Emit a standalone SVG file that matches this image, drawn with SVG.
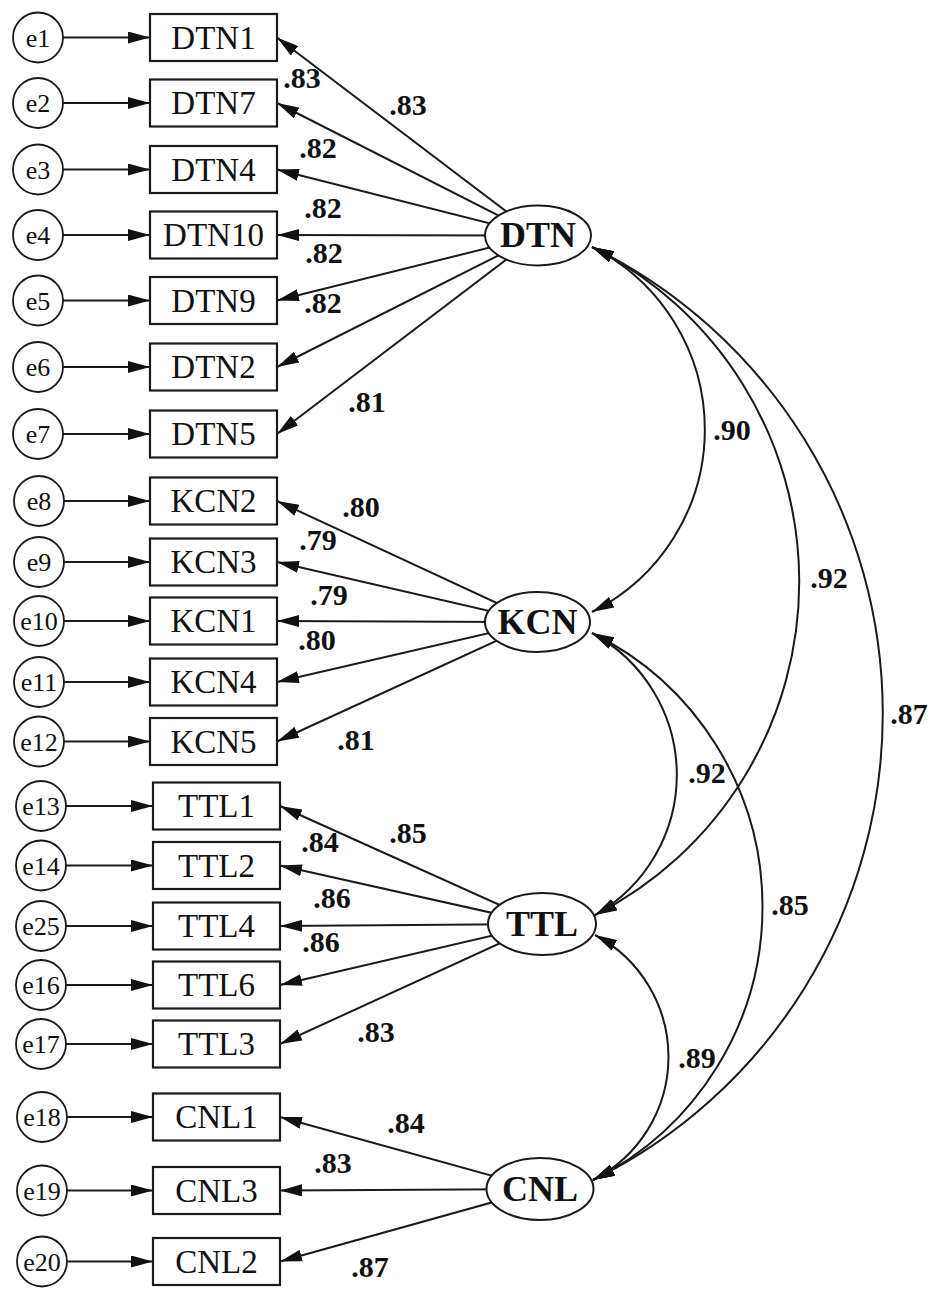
<svg xmlns="http://www.w3.org/2000/svg" width="932" height="1289" viewBox="0 0 932 1289">
  <defs>
    <marker id="ah" viewBox="0 0 22 12" refX="22" refY="6" markerWidth="22" markerHeight="12" markerUnits="userSpaceOnUse" orient="auto-start-reverse">
      <path d="M0,0 L22,6 L0,12 z" fill="#111"/>
    </marker>
    <style>
      .ln { fill: none; stroke: #1a1a1a; stroke-width: 2; marker-end: url(#ah); }
      .cov { fill: none; stroke: #1a1a1a; stroke-width: 2; marker-start: url(#ah); marker-end: url(#ah); }
      .box { fill: #fff; stroke: #1a1a1a; stroke-width: 2.2; }
      .err { fill: #fff; stroke: #1a1a1a; stroke-width: 1.8; }
      .lat { fill: #fff; stroke: #1a1a1a; stroke-width: 2; }
      text { font-family: "Liberation Serif", "Times New Roman", serif; fill: #111; text-anchor: middle; }
      .tb { font-size: 33px; }
      .te { font-size: 26px; }
      .tl { font-size: 36px; font-weight: bold; }
      .tw { font-size: 30px; font-weight: bold; }
    </style>
  </defs>
  <rect width="932" height="1289" fill="#fff"/>

  <!-- paths: error terms, loadings, covariances -->
  <g id="connectors">
    <!-- error -> indicator -->
    <line class="ln" x1="63" y1="37.5" x2="150" y2="37.5"/>
    <line class="ln" x1="63" y1="103" x2="150" y2="103"/>
    <line class="ln" x1="63" y1="169.5" x2="150" y2="169.5"/>
    <line class="ln" x1="63" y1="235" x2="150" y2="235"/>
    <line class="ln" x1="63" y1="300.5" x2="150" y2="300.5"/>
    <line class="ln" x1="63" y1="367" x2="150" y2="367"/>
    <line class="ln" x1="63" y1="434" x2="150" y2="434"/>
    <line class="ln" x1="64" y1="501" x2="150" y2="501"/>
    <line class="ln" x1="64" y1="562" x2="150" y2="562"/>
    <line class="ln" x1="64" y1="621" x2="150" y2="621"/>
    <line class="ln" x1="64" y1="682" x2="150" y2="682"/>
    <line class="ln" x1="64" y1="741.5" x2="150" y2="741.5"/>
    <line class="ln" x1="66" y1="806" x2="153" y2="806"/>
    <line class="ln" x1="66" y1="865.5" x2="153" y2="865.5"/>
    <line class="ln" x1="66" y1="926" x2="153" y2="926"/>
    <line class="ln" x1="66" y1="985" x2="153" y2="985"/>
    <line class="ln" x1="66" y1="1044" x2="153" y2="1044"/>
    <line class="ln" x1="67" y1="1117" x2="153" y2="1117"/>
    <line class="ln" x1="67" y1="1190.5" x2="153" y2="1190.5"/>
    <line class="ln" x1="67" y1="1261.5" x2="153" y2="1261.5"/>

    <!-- DTN loadings -->
    <line class="ln" x1="538" y1="235.5" x2="277" y2="37.5"/>
    <line class="ln" x1="538" y1="235.5" x2="277" y2="103"/>
    <line class="ln" x1="538" y1="235.5" x2="277" y2="169.5"/>
    <line class="ln" x1="538" y1="235.5" x2="277" y2="235"/>
    <line class="ln" x1="538" y1="235.5" x2="277" y2="300.5"/>
    <line class="ln" x1="538" y1="235.5" x2="277" y2="367"/>
    <line class="ln" x1="538" y1="235.5" x2="277" y2="434"/>
    <!-- KCN loadings -->
    <line class="ln" x1="537.5" y1="622" x2="277" y2="501"/>
    <line class="ln" x1="537.5" y1="622" x2="277" y2="562"/>
    <line class="ln" x1="537.5" y1="622" x2="277" y2="621"/>
    <line class="ln" x1="537.5" y1="622" x2="277" y2="682"/>
    <line class="ln" x1="537.5" y1="622" x2="277" y2="741.5"/>
    <!-- TTL loadings -->
    <line class="ln" x1="542" y1="924" x2="280" y2="806"/>
    <line class="ln" x1="542" y1="924" x2="280" y2="865.5"/>
    <line class="ln" x1="542" y1="924" x2="280" y2="926"/>
    <line class="ln" x1="542" y1="924" x2="280" y2="985"/>
    <line class="ln" x1="542" y1="924" x2="280" y2="1044"/>
    <!-- CNL loadings -->
    <line class="ln" x1="540" y1="1189" x2="280" y2="1117"/>
    <line class="ln" x1="540" y1="1189" x2="280" y2="1190.5"/>
    <line class="ln" x1="540" y1="1189" x2="280" y2="1261.5"/>

    <!-- factor covariances -->
    <path class="cov" d="M592,247 A204,204 0 0 1 592,612"/>
    <path class="cov" d="M592,247 A374,374 0 0 1 595,915"/>
    <path class="cov" d="M592,247 A520,520 0 0 1 593,1180"/>
    <path class="cov" d="M592,633 A161,161 0 0 1 595,915"/>
    <path class="cov" d="M592,633 A305,305 0 0 1 593,1180"/>
    <path class="cov" d="M595,935 A138,138 0 0 1 593,1180"/>
  </g>

  <!-- error terms -->
  <g id="e1"><circle class="err" cx="38" cy="37.5" r="25"/><text class="te" x="38" y="46.5">e1</text></g>
  <g id="e2"><circle class="err" cx="38" cy="103" r="25"/><text class="te" x="38" y="112">e2</text></g>
  <g id="e3"><circle class="err" cx="38" cy="169.5" r="25"/><text class="te" x="38" y="178.5">e3</text></g>
  <g id="e4"><circle class="err" cx="38" cy="235" r="25"/><text class="te" x="38" y="244">e4</text></g>
  <g id="e5"><circle class="err" cx="38" cy="300.5" r="25"/><text class="te" x="38" y="309.5">e5</text></g>
  <g id="e6"><circle class="err" cx="38" cy="367" r="25"/><text class="te" x="38" y="376">e6</text></g>
  <g id="e7"><circle class="err" cx="38" cy="434" r="25"/><text class="te" x="38" y="443">e7</text></g>
  <g id="e8"><circle class="err" cx="39" cy="501" r="25"/><text class="te" x="39" y="510">e8</text></g>
  <g id="e9"><circle class="err" cx="39" cy="562" r="25"/><text class="te" x="39" y="571">e9</text></g>
  <g id="e10"><circle class="err" cx="39" cy="621" r="25"/><text class="te" x="39" y="630">e10</text></g>
  <g id="e11"><circle class="err" cx="39" cy="682" r="25"/><text class="te" x="39" y="691">e11</text></g>
  <g id="e12"><circle class="err" cx="39" cy="741.5" r="25"/><text class="te" x="39" y="750.5">e12</text></g>
  <g id="e13"><circle class="err" cx="41" cy="806" r="25"/><text class="te" x="41" y="815">e13</text></g>
  <g id="e14"><circle class="err" cx="41" cy="865.5" r="25"/><text class="te" x="41" y="874.5">e14</text></g>
  <g id="e25"><circle class="err" cx="41" cy="926" r="25"/><text class="te" x="41" y="935">e25</text></g>
  <g id="e16"><circle class="err" cx="41" cy="985" r="25"/><text class="te" x="41" y="994">e16</text></g>
  <g id="e17"><circle class="err" cx="41" cy="1044" r="25"/><text class="te" x="41" y="1053">e17</text></g>
  <g id="e18"><circle class="err" cx="42" cy="1117" r="25"/><text class="te" x="42" y="1126">e18</text></g>
  <g id="e19"><circle class="err" cx="42" cy="1190.5" r="25"/><text class="te" x="42" y="1199.5">e19</text></g>
  <g id="e20"><circle class="err" cx="42" cy="1261.5" r="25"/><text class="te" x="42" y="1270.5">e20</text></g>

  <!-- observed indicators -->
  <g id="DTN1"><rect class="box" x="150" y="14" width="127" height="47"/><text class="tb" x="213.5" y="48.5">DTN1</text></g>
  <g id="DTN7"><rect class="box" x="150" y="79.5" width="127" height="47"/><text class="tb" x="213.5" y="114">DTN7</text></g>
  <g id="DTN4"><rect class="box" x="150" y="146" width="127" height="47"/><text class="tb" x="213.5" y="180.5">DTN4</text></g>
  <g id="DTN10"><rect class="box" x="150" y="211.5" width="127" height="47"/><text class="tb" x="213.5" y="246">DTN10</text></g>
  <g id="DTN9"><rect class="box" x="150" y="277" width="127" height="47"/><text class="tb" x="213.5" y="311.5">DTN9</text></g>
  <g id="DTN2"><rect class="box" x="150" y="343.5" width="127" height="47"/><text class="tb" x="213.5" y="378">DTN2</text></g>
  <g id="DTN5"><rect class="box" x="150" y="410.5" width="127" height="47"/><text class="tb" x="213.5" y="445">DTN5</text></g>
  <g id="KCN2"><rect class="box" x="150" y="477.5" width="127" height="47"/><text class="tb" x="213.5" y="512">KCN2</text></g>
  <g id="KCN3"><rect class="box" x="150" y="538.5" width="127" height="47"/><text class="tb" x="213.5" y="573">KCN3</text></g>
  <g id="KCN1"><rect class="box" x="150" y="597.5" width="127" height="47"/><text class="tb" x="213.5" y="632">KCN1</text></g>
  <g id="KCN4"><rect class="box" x="150" y="658.5" width="127" height="47"/><text class="tb" x="213.5" y="693">KCN4</text></g>
  <g id="KCN5"><rect class="box" x="150" y="718" width="127" height="47"/><text class="tb" x="213.5" y="752.5">KCN5</text></g>
  <g id="TTL1"><rect class="box" x="153" y="782.5" width="127" height="47"/><text class="tb" x="216.5" y="817">TTL1</text></g>
  <g id="TTL2"><rect class="box" x="153" y="842" width="127" height="47"/><text class="tb" x="216.5" y="876.5">TTL2</text></g>
  <g id="TTL4"><rect class="box" x="153" y="902.5" width="127" height="47"/><text class="tb" x="216.5" y="937">TTL4</text></g>
  <g id="TTL6"><rect class="box" x="153" y="961.5" width="127" height="47"/><text class="tb" x="216.5" y="996">TTL6</text></g>
  <g id="TTL3"><rect class="box" x="153" y="1020.5" width="127" height="47"/><text class="tb" x="216.5" y="1055">TTL3</text></g>
  <g id="CNL1"><rect class="box" x="153" y="1093.5" width="127" height="47"/><text class="tb" x="216.5" y="1128">CNL1</text></g>
  <g id="CNL3"><rect class="box" x="153" y="1167" width="127" height="47"/><text class="tb" x="216.5" y="1201.5">CNL3</text></g>
  <g id="CNL2"><rect class="box" x="153" y="1238" width="127" height="47"/><text class="tb" x="216.5" y="1272.5">CNL2</text></g>

  <!-- latent factors -->
  <g id="DTN"><ellipse class="lat" cx="538" cy="235.5" rx="53" ry="30"/><text class="tl" x="538" y="247">DTN</text></g>
  <g id="KCN"><ellipse class="lat" cx="537.5" cy="622" rx="52.5" ry="30"/><text class="tl" x="537.5" y="634">KCN</text></g>
  <g id="TTL"><ellipse class="lat" cx="542" cy="924" rx="54" ry="31"/><text class="tl" x="542" y="936">TTL</text></g>
  <g id="CNL"><ellipse class="lat" cx="540" cy="1189" rx="53.5" ry="31"/><text class="tl" x="540" y="1201">CNL</text></g>

  <!-- standardized estimates -->
  <g id="estimates" class="tw">
    <text class="tw" x="302" y="88">.83</text>
    <text class="tw" x="408" y="115">.83</text>
    <text class="tw" x="318" y="158">.82</text>
    <text class="tw" x="323" y="218">.82</text>
    <text class="tw" x="324" y="263">.82</text>
    <text class="tw" x="323" y="313">.82</text>
    <text class="tw" x="367" y="412">.81</text>

    <text class="tw" x="361" y="517">.80</text>
    <text class="tw" x="318" y="550">.79</text>
    <text class="tw" x="329" y="605">.79</text>
    <text class="tw" x="317" y="650">.80</text>
    <text class="tw" x="356" y="750">.81</text>

    <text class="tw" x="408" y="843">.85</text>
    <text class="tw" x="320" y="852">.84</text>
    <text class="tw" x="332" y="908">.86</text>
    <text class="tw" x="321" y="952">.86</text>
    <text class="tw" x="376" y="1042">.83</text>

    <text class="tw" x="406" y="1133">.84</text>
    <text class="tw" x="333" y="1173">.83</text>
    <text class="tw" x="370" y="1277">.87</text>

    <text class="tw" x="732" y="440">.90</text>
    <text class="tw" x="829" y="588">.92</text>
    <text class="tw" x="909" y="724">.87</text>
    <text class="tw" x="707" y="783">.92</text>
    <text class="tw" x="790" y="915">.85</text>
    <text class="tw" x="697" y="1068">.89</text>
  </g>
</svg>
